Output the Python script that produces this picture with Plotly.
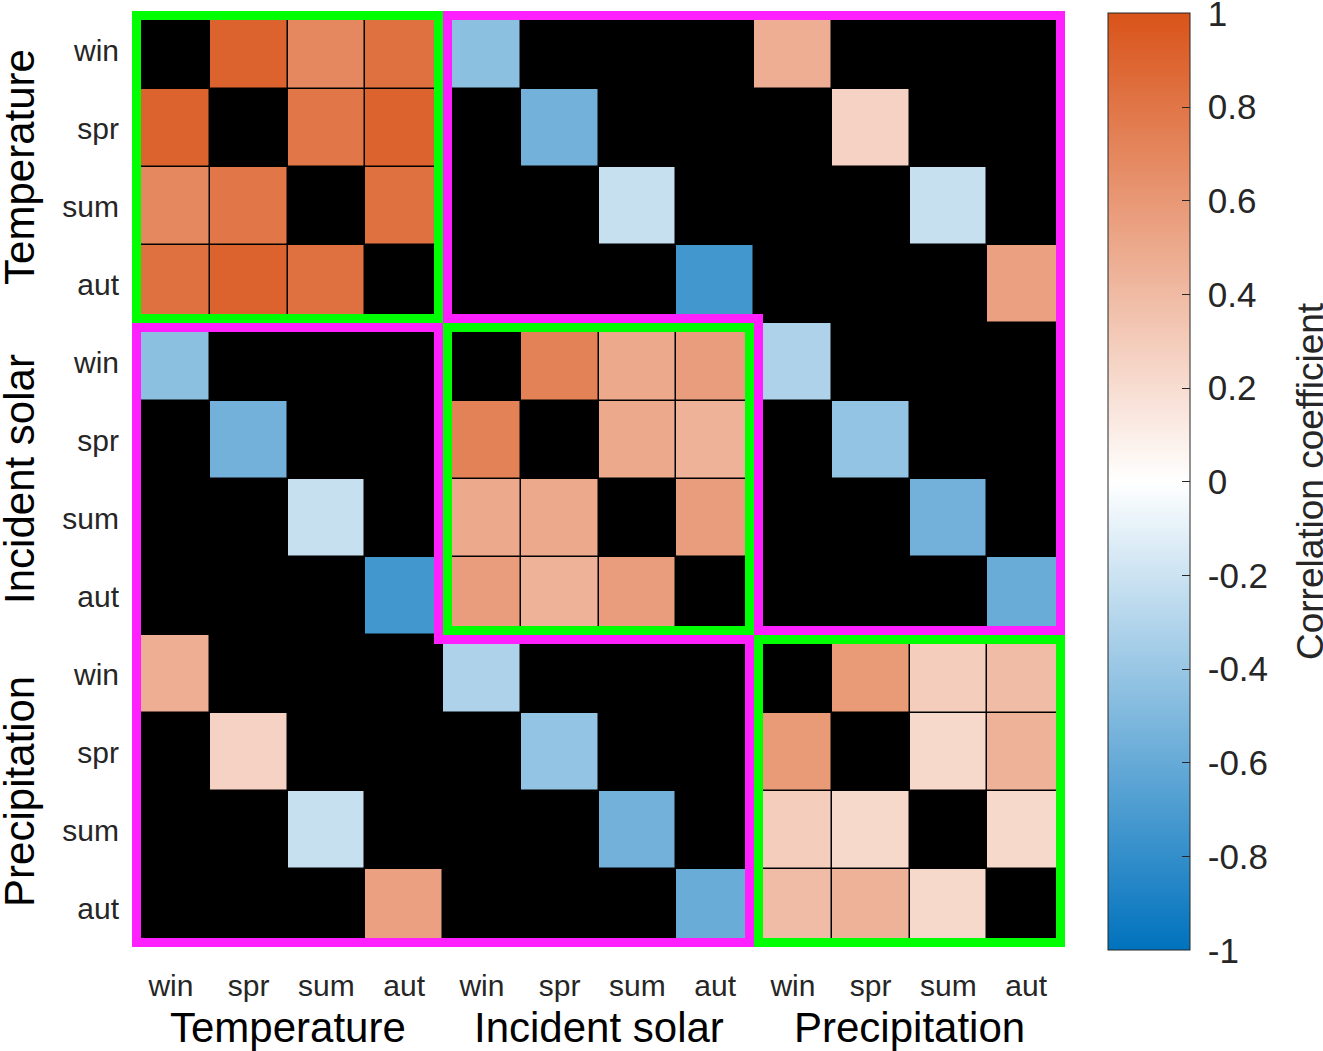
import numpy as np
import plotly.graph_objects as go

# Seasonal correlation matrix: temperature, incident solar, precipitation
seasons = ["win", "spr", "sum", "aut"]
variables = ["Temperature", "Incident solar", "Precipitation"]

# within-variable correlations, order: win-spr, win-sum, win-aut, spr-sum, spr-aut, sum-aut
temp_within = [0.91, 0.69, 0.83, 0.79, 0.91, 0.83]
solar_within = [0.73, 0.50, 0.57, 0.50, 0.45, 0.57]
precip_within = [0.59, 0.29, 0.39, 0.22, 0.45, 0.22]

# same-season correlations between variables (win, spr, sum, aut)
temp_solar = [-0.45, -0.55, -0.22, -0.74]
temp_precip = [0.47, 0.26, -0.22, 0.55]
solar_precip = [-0.32, -0.42, -0.55, -0.59]

# colorbar ticks
cb_ticks = [1, 0.8, 0.6, 0.4, 0.2, 0, -0.2, -0.4, -0.6, -0.8, -1]
cb_labels = ["1", "0.8", "0.6", "0.4", "0.2", "0", "-0.2", "-0.4", "-0.6", "-0.8", "-1"]

# build the 12x12 matrix, everything else stays NaN (drawn black)
n = 4 * len(variables)
z = np.full((n, n), np.nan)
pairs = [(0, 1), (0, 2), (0, 3), (1, 2), (1, 3), (2, 3)]
for b, vals in enumerate([temp_within, solar_within, precip_within]):
    for (i, j), v in zip(pairs, vals):
        z[4*b + i, 4*b + j] = v
        z[4*b + j, 4*b + i] = v
for (a, b), vals in {(0, 1): temp_solar, (0, 2): temp_precip, (1, 2): solar_precip}.items():
    for s, v in enumerate(vals):
        z[4*a + s, 4*b + s] = v
        z[4*b + s, 4*a + s] = v
zlist = [[None if np.isnan(v) else float(v) for v in row] for row in z]

FONT = "Liberation Sans, Arial, sans-serif"
TXT = "#262626"

fig = go.Figure(go.Heatmap(
    z=zlist, x=list(range(n)), y=list(range(n)),
    zmin=-1, zmax=1, xgap=1.5, ygap=1.5,
    colorscale=[[0, "rgb(0,114,189)"], [0.5, "rgb(255,255,255)"], [1, "rgb(217,83,25)"]],
    colorbar=dict(
        x=1.046, xanchor="left", y=0.497, yanchor="middle",
        len=937, lenmode="pixels", thickness=82, thicknessmode="pixels",
        xpad=0, ypad=0, outlinewidth=1, outlinecolor=TXT,
        tickvals=cb_ticks, ticktext=["\u00a0" + t for t in cb_labels],
        ticks="inside", ticklen=8, tickcolor=TXT, ticklabeloverflow="allow",
        tickfont=dict(size=35, color=TXT, family=FONT),
    ),
))

# block outlines: magenta for between-variable regions, green for within-variable blocks
e = [-0.5, 3.5, 7.5, 11.5]
d = 0.058
ur = [(e[1]+d, e[0]+d), (e[3]-d, e[0]+d), (e[3]-d, e[2]-d), (e[2]+d, e[2]-d), (e[2]+d, e[1]-d), (e[1]+d, e[1]-d)]
ll = [(e[0]+d, e[1]+d), (e[1]-d, e[1]+d), (e[1]-d, e[2]+d), (e[2]-d, e[2]+d), (e[2]-d, e[3]-d), (e[0]+d, e[3]-d)]
for poly in [ur, ll]:
    path = "M " + " L ".join(f"{px},{py}" for px, py in poly) + " Z"
    fig.add_shape(type="path", path=path, xref="x", yref="y",
                  line=dict(color="#FF20FF", width=9))
for k in range(3):
    fig.add_shape(type="rect", xref="x", yref="y",
                  x0=e[k]+d, x1=e[k+1]-d, y0=e[k]+d, y1=e[k+1]-d,
                  line=dict(color="#00FF00", width=9))

# group labels
for k, name in enumerate(variables):
    fig.add_annotation(x=4*k + 1.5, y=-0.0865, xref="x", yref="paper",
                       text=name, showarrow=False, xanchor="center", yanchor="middle",
                       font=dict(size=42, color="black", family=FONT))
    fig.add_annotation(x=-0.1212, y=4*k + 1.5, xref="paper", yref="y",
                       text=name, showarrow=False, textangle=-90,
                       xanchor="center", yanchor="middle",
                       font=dict(size=42, color="black", family=FONT))
fig.add_annotation(x=1.2626, y=0.4978, xref="paper", yref="paper",
                   text="Correlation coefficient", showarrow=False, textangle=-90,
                   xanchor="center", yanchor="middle",
                   font=dict(size=37, color=TXT, family=FONT))

fig.update_layout(
    width=1323, height=1051,
    margin=dict(l=132, r=258, t=11, b=104, autoexpand=False),
    plot_bgcolor="black", paper_bgcolor="white",
    font=dict(family=FONT, color=TXT),
    xaxis=dict(range=[-0.5, 11.5], tickvals=list(range(n)), ticktext=seasons * 3,
               showgrid=False, zeroline=False, ticks="", ticklabelstandoff=18,
               tickfont=dict(size=30, color=TXT), automargin=False),
    yaxis=dict(range=[11.5, -0.5], tickvals=list(range(n)), ticktext=seasons * 3,
               showgrid=False, zeroline=False, ticks="", ticklabelstandoff=12,
               tickfont=dict(size=30, color=TXT), automargin=False),
)
# drop the default body margin so the figure sits at the page corner
fig.write_html("out.html", config={"displayModeBar": False},
               post_script="document.body.style.margin='0';")
